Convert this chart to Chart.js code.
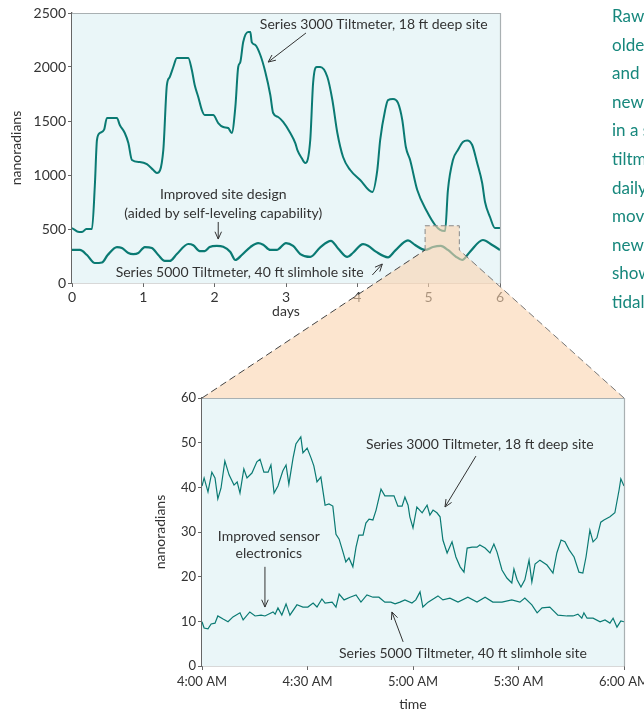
<!DOCTYPE html>
<html>
<head>
<meta charset="utf-8">
<script src="https://cdn.jsdelivr.net/npm/chart.js@4.4.0/dist/chart.umd.min.js"></script>
<style>
  html, body { margin: 0; padding: 0; background: #fff; overflow: hidden; }
  #page { position: relative; width: 644px; height: 713px; overflow: hidden; font-family: Lato, sans-serif; }
  canvas { position: absolute; }
  #topChart { left: 0; top: 0; }
  #zoomChart { left: 140px; top: 380px; }
  #overlay { left: 0; top: 0; pointer-events: none; }
  #note { position: absolute; left: 612px; top: 2px; color: #16877c; font-size: 17px; line-height: 28.6px; white-space: nowrap; }
</style>
</head>
<body>
<div id="page">
  <canvas id="topChart" width="520" height="330"></canvas>
  <canvas id="zoomChart" width="524" height="333"></canvas>
  <canvas id="overlay" width="644" height="713"></canvas>
  <div id="note"></div>
</div>
<script>
// ---- data: six days of raw tilt ----
const deepDays = [0,0.10,0.15,0.20,0.28,0.32,0.35,0.39,0.45,0.49,0.63,0.67,0.74,0.79,0.84,0.95,1.05,1.14,1.19,1.28,
  1.33,1.37,1.42,1.47,1.63,1.68,1.72,1.77,1.82,1.86,1.98,2.05,2.12,2.19,2.24,2.29,2.33,2.36,2.40,2.47,
  2.50,2.52,2.57,2.64,2.71,2.78,2.82,2.89,2.96,3.06,3.13,3.16,3.22,3.27,3.34,3.38,3.43,3.48,3.58,3.65,
  3.72,3.80,3.90,4.04,4.21,4.28,4.32,4.39,4.43,4.50,4.57,4.63,4.68,4.74,4.84,4.98,5.09,5.16,5.23,5.27,
  5.34,5.41,5.48,5.54,5.61,5.68,5.75,5.79,5.86,5.93,6.00];
const deepTilt = [509,472,475,500,500,900,1324,1389,1420,1528,1528,1463,1389,1296,1139,1120,1100,1046,1018,1231,
  1833,1907,2000,2083,2083,1972,1833,1722,1602,1555,1555,1481,1444,1435,1389,1630,2000,2046,2231,2324,
  2324,2231,2204,2111,1954,1741,1574,1537,1491,1389,1296,1231,1157,1111,1324,1852,2000,2000,1907,1694,
  1389,1167,1046,954,843,1046,1324,1602,1694,1704,1667,1509,1259,1139,861,657,537,491,481,861,
  1139,1231,1306,1320,1278,1111,926,750,611,509,509];

const slimDays = [0,0.11,0.21,0.32,0.42,0.50,0.63,0.70,0.79,0.86,0.93,1.02,1.12,1.21,1.30,1.37,1.47,1.63,1.70,1.79,
  1.86,1.93,2.03,2.12,2.22,2.29,2.38,2.50,2.61,2.68,2.78,2.87,3.00,3.10,3.20,3.34,3.48,3.63,3.73,3.86,
  3.94,4.08,4.15,4.26,4.43,4.53,4.71,4.81,4.95,5.06,5.17,5.27,5.38,5.47,5.58,5.76,5.89,6.00];
const slimTilt = [306,306,259,185,190,259,333,324,278,268,278,333,324,259,204,204,268,361,350,296,
  296,333,343,335,287,213,259,333,370,355,306,306,370,343,268,241,330,390,320,241,
  280,360,345,290,238,300,395,352,306,333,343,306,245,213,290,398,352,306];

// ---- data: two-hour close-up (minutes after 4:00 AM) ----
const deepMinutes = [0,0.6,1.7,2.8,3.7,4.5,5.4,6.5,7.7,9.1,10.0,10.8,11.9,12.8,14.2,15.6,16.5,17.6,18.8,19.6,
  20.5,21.6,23.0,23.9,24.7,25.9,26.7,28.1,28.7,29.9,31.0,31.8,32.7,33.8,35.0,36.1,37.2,38.1,39.0,40.1,
  40.9,41.8,42.9,43.8,44.6,45.8,46.6,47.5,48.6,49.5,50.9,52.0,53.5,54.6,55.7,56.9,57.7,58.6,59.1,60.0,
  61.1,62.6,64.0,64.8,65.7,66.8,67.7,68.5,69.7,71.1,72.2,73.4,74.5,75.4,76.8,78.2,79.0,80.5,81.9,83.0,
  83.9,85.3,86.7,88.1,88.7,89.6,90.7,91.8,93.0,93.8,94.7,96.1,98.1,99.8,100.9,102.1,103.2,104.4,105.8,107.2,
  108.3,109.2,110.3,111.2,112.3,113.4,114.3,116.0,117.4,118.6,119.1,120];
const deepZoom = [40.3,42.1,39.0,43.4,42.1,37.4,39.8,45.9,42.8,40.5,41.2,38.7,44.1,42.1,43.2,45.7,46.3,43.4,43.4,45.0,
  38.7,40.3,43.7,45.0,40.7,46.6,49.7,51.3,47.7,48.8,46.6,44.8,41.2,42.3,36.0,36.3,35.8,29.5,28.4,25.5,
  23.3,24.2,22.2,26.6,29.3,29.3,32.0,32.9,32.7,34.9,39.6,38.1,38.1,38.1,35.8,35.8,37.8,36.0,33.4,30.9,
  35.6,34.3,36.0,33.8,34.9,34.3,33.4,28.2,25.3,27.8,24.4,22.2,21.0,26.4,26.6,26.6,27.1,26.4,25.3,27.3,
  25.5,21.5,19.7,18.6,21.7,19.3,17.7,19.3,23.7,18.8,22.8,23.7,22.6,20.8,25.3,28.2,27.8,26.0,24.4,21.0,
  20.8,24.4,30.4,27.8,28.7,32.2,32.7,33.4,34.3,39.4,41.9,40.3];

const slimMinutes = [0,0.6,1.7,2.6,3.7,4.5,6.0,7.4,8.8,10.8,11.7,13.6,15.1,16.8,17.9,20.2,20.8,21.6,22.7,23.9,
  25.0,27.0,28.7,30.1,31.6,32.7,34.1,35.0,37.0,38.1,39.0,40.4,42.1,43.8,45.2,46.9,48.6,50.3,52.0,53.7,
  54.9,56.3,57.7,59.7,60.8,62.0,62.8,64.3,67.1,68.5,70.5,72.8,75.6,78.2,80.5,82.7,85.3,88.1,90.4,91.8,
  93.8,95.3,96.7,98.9,101.2,103.8,105.5,106.9,108.0,108.6,109.5,111.2,113.2,114.6,116.0,116.9,118.0,119.1,120];
const slimZoom = [9.9,8.5,8.3,9.4,9.6,11.2,10.5,9.9,11.0,11.9,10.3,12.1,11.2,11.4,11.2,12.1,11.6,13.0,11.4,13.9,
  11.4,13.7,13.2,13.2,14.1,13.2,15.0,14.1,14.3,13.2,16.1,14.8,15.4,15.9,14.3,15.9,15.4,15.4,14.3,14.3,
  13.9,14.3,14.8,14.1,14.8,16.6,13.2,14.3,15.7,14.8,15.2,14.3,15.4,14.3,15.4,14.3,14.3,14.8,14.3,15.2,
  13.7,11.9,13.0,13.2,11.4,11.2,11.2,11.6,10.7,11.9,10.7,10.7,9.9,10.3,9.6,10.7,8.7,10.1,9.9];

const timeLabels = ['4:00 AM', '4:30 AM', '5:00 AM', '5:30 AM', '6:00 AM'];

// highlighted window on the six-day plot (days, nanoradians)
const zoomDays = [4.95, 5.43];
const zoomRange = [305, 530];

const noteLines = ['Raw data from an', 'older Series 3000', 'and the', 'newer Series 5000', 'in a slimhole,',
  'tiltmeter records', 'daily ground', 'movement; the', 'newer design', 'shows the', 'tidal signal'];

// callouts, placed in data units
const topNotes = [
  { text: 'Series 3000 Tiltmeter, 18 ft deep site', x: 4.23, y: 2398 },
  { text: 'Improved site design', x: 2.12, y: 824 },
  { text: '(aided by self-leveling capability)', x: 2.12, y: 648 },
  { text: 'Series 5000 Tiltmeter, 40 ft slimhole site', x: 2.35, y: 93 }
];
const topArrows = [
  { from: [3.28, 2315], to: [2.75, 2046] },
  { from: [2.05, 565], to: [2.05, 407] },
  { from: [4.21, 74], to: [4.35, 176] }
];
const zoomNotes = [
  { text: 'Series 3000 Tiltmeter, 18 ft deep site', x: 79.0, y: 49.7 },
  { text: 'Improved sensor', x: 19.0, y: 28.9 },
  { text: 'electronics', x: 19.0, y: 25.3 },
  { text: 'Series 5000 Tiltmeter, 40 ft slimhole site', x: 74.2, y: 2.9 }
];
const zoomArrows = [
  { from: [77.9, 47.0], to: [69.1, 35.6] },
  { from: [17.9, 22.2], to: [17.9, 13.2] },
  { from: [57.2, 5.4], to: [54.0, 12.1] }
];

const TEAL = '#0a7a73';
const INK = '#333';
const FONT = 'Lato, sans-serif';

const toPoints = (xs, ys) => xs.map((x, i) => ({ x, y: ys[i] }));

function arrow(ctx, x1, y1, x2, y2) {
  const ang = Math.atan2(y2 - y1, x2 - x1);
  const len = 8, spread = 0.42;
  ctx.beginPath();
  ctx.moveTo(x1, y1);
  ctx.lineTo(x2, y2);
  ctx.moveTo(x2 - len * Math.cos(ang - spread), y2 - len * Math.sin(ang - spread));
  ctx.lineTo(x2, y2);
  ctx.lineTo(x2 - len * Math.cos(ang + spread), y2 - len * Math.sin(ang + spread));
  ctx.stroke();
}

// plot background, frame and callouts
const figurePlugin = {
  id: 'figure',
  beforeDatasetsDraw(chart, args, opts) {
    const { ctx, chartArea: a } = chart;
    ctx.save();
    ctx.fillStyle = opts.background;
    ctx.fillRect(a.left, a.top, a.right - a.left, a.bottom - a.top);
    ctx.restore();
  },
  afterDatasetsDraw(chart, args, opts) {
    const { ctx, chartArea: a, scales: { x, y } } = chart;
    ctx.save();
    ctx.strokeStyle = '#a9b0b2';
    ctx.lineWidth = 1.2;
    ctx.beginPath();
    ctx.moveTo(a.left, a.top + 0.5);
    ctx.lineTo(a.right + 0.5, a.top + 0.5);
    ctx.lineTo(a.right + 0.5, a.bottom);
    ctx.stroke();

    ctx.fillStyle = INK;
    ctx.font = opts.font;
    ctx.textAlign = 'center';
    ctx.textBaseline = 'middle';
    opts.notes.forEach(n => ctx.fillText(n.text, x.getPixelForValue(n.x), y.getPixelForValue(n.y)));

    ctx.strokeStyle = INK;
    ctx.lineWidth = 1;
    opts.arrows.forEach(r => arrow(ctx,
      x.getPixelForValue(r.from[0]), y.getPixelForValue(r.from[1]),
      x.getPixelForValue(r.to[0]), y.getPixelForValue(r.to[1])));
    ctx.restore();
  }
};

function axisStyle(size) {
  return {
    grid: { drawOnChartArea: false, drawTicks: true, tickLength: 4, color: '#666' },
    border: { display: true, color: '#666', width: 1.3 },
    ticks: { color: INK, font: { family: FONT, size: size }, padding: 2, format: { useGrouping: false } }
  };
}

const topX = axisStyle(14), topY = axisStyle(14);
const topChart = new Chart(document.getElementById('topChart'), {
  type: 'line',
  data: {
    datasets: [
      { label: 'Series 3000 Tiltmeter, 18 ft deep site', data: toPoints(deepDays, deepTilt),
        borderColor: TEAL, borderWidth: 2, pointRadius: 0, cubicInterpolationMode: 'monotone' },
      { label: 'Series 5000 Tiltmeter, 40 ft slimhole site', data: toPoints(slimDays, slimTilt),
        borderColor: TEAL, borderWidth: 2.2, pointRadius: 0, cubicInterpolationMode: 'monotone' }
    ]
  },
  options: {
    responsive: false,
    animation: false,
    events: [],
    layout: { padding: { left: 0, top: 13, right: 20, bottom: 0 } },
    plugins: {
      legend: { display: false },
      tooltip: { enabled: false },
      figure: { background: '#eaf6f8', font: '14px ' + FONT, notes: topNotes, arrows: topArrows }
    },
    scales: {
      x: {
        type: 'linear', min: 0, max: 6,
        ...topX,
        ticks: { ...topX.ticks, stepSize: 1 },
        title: { display: true, text: 'days', color: INK, font: { family: FONT, size: 14 }, padding: { top: 0, bottom: 10.6 } },
        afterFit: s => { s.height = 47; }
      },
      y: {
        min: 0, max: 2500,
        ...topY,
        ticks: { ...topY.ticks, stepSize: 500 },
        title: { display: true, text: 'nanoradians', color: INK, font: { family: FONT, size: 14 }, padding: { top: 7.6, bottom: 0 } },
        afterFit: s => { s.width = 72; }
      }
    }
  },
  plugins: [figurePlugin]
});

const zX = axisStyle(13), zY = axisStyle(13);
const zoomChart = new Chart(document.getElementById('zoomChart'), {
  type: 'line',
  data: {
    datasets: [
      { label: 'Series 3000 Tiltmeter, 18 ft deep site', data: toPoints(deepMinutes, deepZoom),
        borderColor: TEAL, borderWidth: 1.2, pointRadius: 0, tension: 0 },
      { label: 'Series 5000 Tiltmeter, 40 ft slimhole site', data: toPoints(slimMinutes, slimZoom),
        borderColor: TEAL, borderWidth: 1.2, pointRadius: 0, tension: 0 }
    ]
  },
  options: {
    responsive: false,
    animation: false,
    events: [],
    layout: { padding: { left: 0, top: 18, right: 40, bottom: 0 } },
    plugins: {
      legend: { display: false },
      tooltip: { enabled: false },
      figure: { background: '#eaf6f8', font: '14px ' + FONT, notes: zoomNotes, arrows: zoomArrows }
    },
    scales: {
      x: {
        type: 'linear', min: 0, max: 120,
        ...zX,
        ticks: { ...zX.ticks, stepSize: 30, padding: 4, callback: v => timeLabels[v / 30] },
        title: { display: true, text: 'time', color: INK, font: { family: FONT, size: 14 }, padding: { top: 0, bottom: 0 } },
        afterFit: s => { s.height = 47; }
      },
      y: {
        min: 0, max: 60,
        ...zY,
        ticks: { ...zY.ticks, stepSize: 10 },
        title: { display: true, text: 'nanoradians', color: INK, font: { family: FONT, size: 14 }, padding: { top: 11.6, bottom: 0 } },
        afterFit: s => { s.width = 62; }
      }
    }
  },
  plugins: [figurePlugin]
});

// zoom wedge linking the highlighted window to the close-up plot
(function drawWedge() {
  const cv = document.getElementById('overlay');
  const ctx = cv.getContext('2d');
  const topCv = document.getElementById('topChart');
  const zCv = document.getElementById('zoomChart');
  const tx = topChart.scales.x, ty = topChart.scales.y;
  const L = topCv.offsetLeft + tx.getPixelForValue(zoomDays[0]);
  const R = topCv.offsetLeft + tx.getPixelForValue(zoomDays[1]);
  const T = topCv.offsetTop + ty.getPixelForValue(zoomRange[1]);
  const B = topCv.offsetTop + ty.getPixelForValue(zoomRange[0]);
  const a = zoomChart.chartArea;
  const bl = [zCv.offsetLeft + a.left, zCv.offsetTop + a.top];
  const br = [zCv.offsetLeft + a.right, zCv.offsetTop + a.top];

  ctx.fillStyle = 'rgba(250, 212, 175, 0.6)';
  ctx.beginPath();
  ctx.moveTo(bl[0], bl[1]);
  ctx.lineTo(L, B);
  ctx.lineTo(L, T);
  ctx.lineTo(R, T);
  ctx.lineTo(R, B);
  ctx.lineTo(br[0], br[1]);
  ctx.closePath();
  ctx.fill();

  ctx.setLineDash([5, 3]);
  ctx.lineWidth = 1;
  ctx.strokeStyle = '#888';
  ctx.beginPath();
  ctx.moveTo(L, B);
  ctx.lineTo(L, T);
  ctx.lineTo(R, T);
  ctx.lineTo(R, B);
  ctx.stroke();

  ctx.setLineDash([7, 4]);
  ctx.strokeStyle = '#444';
  ctx.beginPath();
  ctx.moveTo(bl[0], bl[1]);
  ctx.lineTo(L, B);
  ctx.stroke();
  ctx.strokeStyle = '#777';
  ctx.beginPath();
  ctx.moveTo(br[0], br[1]);
  ctx.lineTo(R, B);
  ctx.stroke();
})();

document.getElementById('note').innerHTML = noteLines.map(t => '<div>' + t + '</div>').join('');
</script>
</body>
</html>
